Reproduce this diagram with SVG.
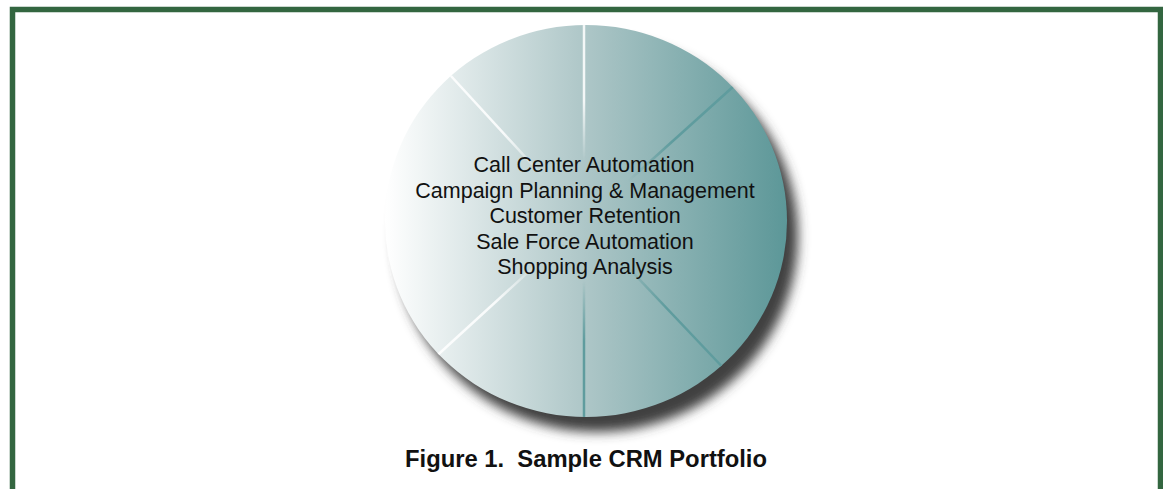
<svg xmlns="http://www.w3.org/2000/svg" width="1163" height="489" viewBox="0 0 1163 489">
  <style>
    .item { font-family: "Liberation Sans", Arial, sans-serif; font-size: 21.5px; fill: #111; text-anchor: middle; }
    .caption { font-family: "Liberation Sans", Arial, sans-serif; font-size: 24px; font-weight: bold; fill: #111; text-anchor: middle; white-space: pre; }
    .spoke-light { stroke: #ffffff; stroke-width: 2.5; stroke-opacity: 0.85; }
    .spoke-dark { stroke: #5f9c9e; stroke-width: 2.5; }
  </style>
  <defs>
    <linearGradient id="discFill" gradientUnits="userSpaceOnUse" x1="385" y1="0" x2="787" y2="0">
      <stop offset="0" stop-color="#ffffff"/>
      <stop offset="0.5" stop-color="#adc6c7"/>
      <stop offset="1" stop-color="#5c9798"/>
    </linearGradient>
    <filter id="dropShadow" x="-20%" y="-20%" width="140%" height="140%">
      <feGaussianBlur stdDeviation="6"/>
    </filter>
    <clipPath id="discClip">
      <ellipse cx="586" cy="221" rx="201" ry="196"/>
    </clipPath>
    <!-- spokes fade out towards the hub -->
    <radialGradient id="spokeFade" gradientUnits="userSpaceOnUse" cx="584" cy="221" r="200">
      <stop offset="0" stop-color="#000"/>
      <stop offset="0.3" stop-color="#000"/>
      <stop offset="0.6" stop-color="#fff"/>
      <stop offset="1" stop-color="#fff"/>
    </radialGradient>
    <mask id="spokeMask" maskUnits="userSpaceOnUse" x="0" y="0" width="1163" height="489">
      <rect width="1163" height="489" fill="url(#spokeFade)"/>
    </mask>
  </defs>

  <rect id="background" width="1163" height="489" fill="#ffffff"/>

  <!-- frame, open at the bottom -->
  <rect id="frame" x="12.5" y="9.5" width="1148" height="500" fill="none" stroke="#336640" stroke-width="5.5"/>

  <g id="portfolio-disc">
    <ellipse cx="597" cy="236" rx="201" ry="196" fill="#404040" filter="url(#dropShadow)"/>
    <ellipse cx="586" cy="221" rx="201" ry="196" fill="url(#discFill)"/>
    <g id="spokes" clip-path="url(#discClip)">
      <g mask="url(#spokeMask)">
        <line class="spoke-light" x1="584" y1="20" x2="584" y2="221"/>
        <line class="spoke-dark" x1="584" y1="221" x2="584" y2="420"/>
        <line class="spoke-light" x1="440" y1="64" x2="584" y2="221"/>
        <line class="spoke-dark" x1="584" y1="221" x2="730" y2="375"/>
        <line class="spoke-dark" x1="745" y1="76" x2="584" y2="221"/>
        <line class="spoke-light" x1="584" y1="221" x2="430" y2="362"/>
      </g>
    </g>
  </g>

  <g id="portfolio-items">
    <text class="item" x="584" y="172">Call Center Automation</text>
    <text class="item" x="585" y="198">Campaign Planning &amp; Management</text>
    <text class="item" x="585" y="223">Customer Retention</text>
    <text class="item" x="585" y="249">Sale Force Automation</text>
    <text class="item" x="585" y="274">Shopping Analysis</text>
  </g>

  <text id="caption" class="caption" x="586" y="467" textLength="362" lengthAdjust="spacingAndGlyphs">Figure 1.  Sample CRM Portfolio</text>
</svg>
